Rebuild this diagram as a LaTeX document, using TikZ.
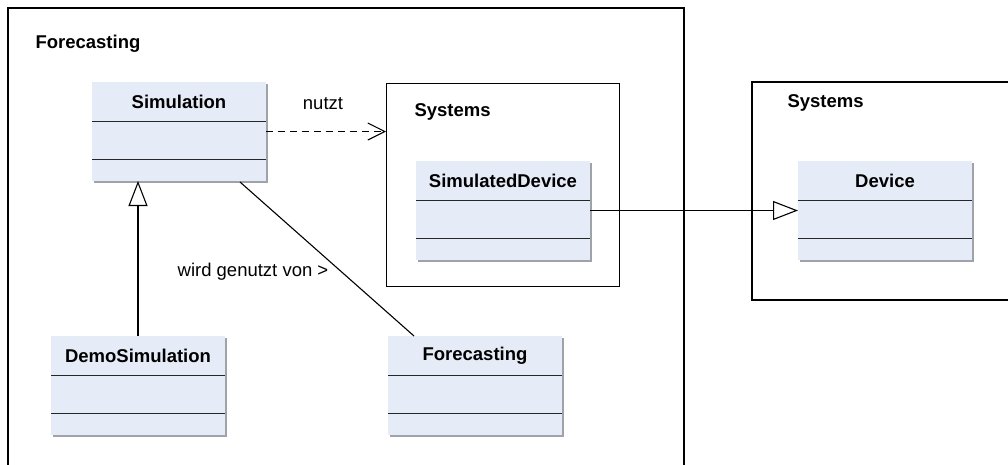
\documentclass[tikz,border=0pt]{standalone}
\usepackage{fontspec}
\setmainfont{Liberation Sans}
\usetikzlibrary{arrows.meta,calc}
\definecolor{classfill}{RGB}{230,236,247}
\definecolor{shadowgray}{RGB}{160,162,170}
\begin{document}
\begin{tikzpicture}[x=1pt,y=-1pt,
  every node/.style={font=\fontsize{18.5}{21}\selectfont},
  classbox/.style={rectangle, anchor=north west, fill=classfill, draw=none,
    minimum width=174pt, minimum height=99pt, inner sep=0pt, outer sep=0pt},
  classshadow/.style={fill=shadowgray},
  sep/.style={draw=black!85, line width=1.2pt},
  frame/.style={draw=black, line width=1.3pt},
  conn/.style={draw=black, line width=1.1pt},
  title/.style={font=\fontsize{18.5}{21}\selectfont\bfseries},
  gen/.style={conn, -{Triangle[open, length=25pt, width=19pt, fill=white]}},
  dep/.style={conn, dash pattern=on 7pt off 5pt, -{Straight Barb[length=17pt, width=17pt]}}
]
\useasboundingbox (0,0) rectangle (1008,464);
% frames
\draw[frame] (8,470) -- (8,8) -- (684,8) -- (684,470);
\node[anchor=west, title] (fctitle) at (32,44) {Forecasting};
\node[frame, rectangle, anchor=north west, minimum width=233pt, minimum height=203pt, inner sep=0pt] (sys1) at (386,83) {};
\node[anchor=west, title] (sys1title) at (411,112) {Systems};
\draw[frame] (1012,82) -- (752,82) -- (752,300) -- (1012,300);
\node[anchor=west, title] (sys2title) at (784,103) {Systems};
% class macro
\newcommand{\umlclass}[4]{%
  \fill[classshadow] ($(#2)+(2,2)$) rectangle ++(174,99);
  \node[classbox] (#1) at (#2) {};
  \node[title] (#1t) at ($(#1.north)+(0,20)$) {#3};
  \draw[sep] ($(#1.north west)+(0,39.5)$) -- ($(#1.north east)+(0,39.5)$);
  \draw[sep] ($(#1.north west)+(0,77.5)$) -- ($(#1.north east)+(0,77.5)$);
}
\umlclass{sim}{92,82}{Simulation}{}
\umlclass{simdev}{416,161}{SimulatedDevice}{}
\umlclass{dev}{798,161}{Device}{}
\umlclass{demo}{51,336}{DemoSimulation}{}
\umlclass{fc}{388,336}{Forecasting}{}
% connectors
\draw[dep] (sim.east) -- (sim.east -| sys1.west);
\node (nutzt) at (323,104) {nutzt};
\draw[gen] (demo.north) -- (demo.north |- sim.south);
\coordinate (assocA) at ($(sim.south west)+(148,1)$);
\coordinate (assocB) at ($(fc.north west)+(26,0)$);
\draw[conn] (assocA) -- (assocB);
\node (wgv) at (253,272) {wird genutzt von >};
\draw[gen] (simdev.east) -- (dev.west);
\end{tikzpicture}
\end{document}
